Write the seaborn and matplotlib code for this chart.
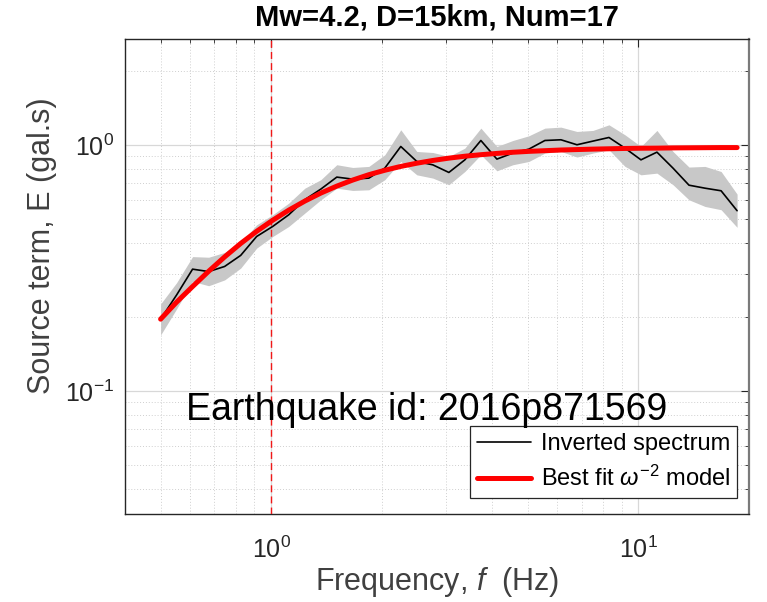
import numpy as np
import pandas as pd
import matplotlib
matplotlib.use("Agg")
import matplotlib.pyplot as plt
import seaborn as sns
from matplotlib.ticker import LogLocator, NullFormatter

# ---- data ----
freq = [0.500, 0.553, 0.611, 0.676, 0.747, 0.826, 0.913, 1.010, 1.117, 1.235,
        1.365, 1.509, 1.668, 1.845, 2.039, 2.254, 2.492, 2.756, 3.047, 3.368,
        3.724, 4.117, 4.552, 5.032, 5.563, 6.152, 6.801, 7.519, 8.313, 9.190,
        10.16, 11.23, 12.42, 13.73, 15.18, 16.79, 18.56]
spectrum = [0.196, 0.246, 0.313, 0.306, 0.321, 0.356, 0.425, 0.467, 0.521, 0.600,
            0.662, 0.741, 0.727, 0.734, 0.806, 0.987, 0.858, 0.831, 0.774, 0.871,
            1.044, 0.877, 0.928, 0.963, 1.044, 1.051, 1.003, 1.038, 1.074, 0.972,
            0.871, 0.936, 0.806, 0.687, 0.668, 0.652, 0.541]
upper = [0.226, 0.276, 0.352, 0.350, 0.366, 0.400, 0.474, 0.521, 0.581, 0.668,
         0.723, 0.832, 0.811, 0.819, 0.913, 1.154, 0.942, 0.933, 0.899, 0.972,
         1.172, 0.987, 1.044, 1.091, 1.172, 1.183, 1.136, 1.147, 1.209, 1.101,
         0.987, 1.147, 0.942, 0.814, 0.819, 0.781, 0.632]
lower = [0.169, 0.216, 0.279, 0.268, 0.283, 0.316, 0.381, 0.425, 0.467, 0.529,
         0.599, 0.668, 0.654, 0.658, 0.723, 0.858, 0.757, 0.734, 0.690, 0.781,
         0.913, 0.786, 0.832, 0.858, 0.928, 0.942, 0.894, 0.928, 0.957, 0.819,
         0.757, 0.769, 0.690, 0.599, 0.563, 0.546, 0.463]
fit = [0.196, 0.230, 0.266, 0.307, 0.351, 0.398, 0.446, 0.495, 0.544, 0.592,
       0.638, 0.681, 0.721, 0.758, 0.790, 0.819, 0.844, 0.866, 0.885, 0.901,
       0.914, 0.925, 0.935, 0.943, 0.949, 0.955, 0.959, 0.963, 0.966, 0.969,
       0.971, 0.972, 0.974, 0.975, 0.976, 0.977, 0.977]
corner_freq = 1.0
title = "Mw=4.2, D=15km, Num=17"
event_text = "Earthquake id: 2016p871569"
series_labels = ["Inverted spectrum", r"Best fit $\omega^{-2}$ model"]

df = pd.DataFrame({"freq": freq, "spectrum": spectrum, "upper": upper,
                   "lower": lower, "fit": fit})

# ---- style ----
sns.set_style("white")
plt.rcParams["font.family"] = ["Liberation Sans", "DejaVu Sans"]
plt.rcParams["mathtext.fontset"] = "custom"
plt.rcParams["mathtext.rm"] = "Liberation Sans"
plt.rcParams["mathtext.it"] = "Liberation Sans:italic"
plt.rcParams["mathtext.bf"] = "Liberation Sans:bold"
plt.rcParams["axes.unicode_minus"] = False
dark = "#262626"

fig = plt.figure(figsize=(7.67, 6.02), dpi=100)
ax = fig.add_axes([125 / 767, 1 - 514 / 602, 624 / 767, 475 / 602])

ax.fill_between(df["freq"], df["lower"], df["upper"], color="#c8c8c8",
                linewidth=0, zorder=2)
sns.lineplot(data=df, x="freq", y="spectrum", ax=ax, color="black",
             linewidth=1.2, label=series_labels[0], zorder=3)
sns.lineplot(data=df, x="freq", y="fit", ax=ax, color="#ff0000",
             linewidth=3.6, label=series_labels[1], zorder=4)
ax.axvline(corner_freq, color="#f01818", linestyle=(0, (5, 3)),
           linewidth=1.0, zorder=3)

ax.set_xscale("log")
ax.set_yscale("log")
ax.set_xlim(0.4, 20)
ax.set_ylim(10 ** -1.5, 2.7)

ax.xaxis.set_major_locator(LogLocator(base=10, numticks=10))
ax.yaxis.set_major_locator(LogLocator(base=10, numticks=10))
ax.xaxis.set_minor_locator(LogLocator(base=10, subs=np.arange(2, 10), numticks=30))
ax.yaxis.set_minor_locator(LogLocator(base=10, subs=np.arange(2, 10), numticks=30))
ax.xaxis.set_minor_formatter(NullFormatter())
ax.yaxis.set_minor_formatter(NullFormatter())

ax.grid(which="major", color="#d8d8d8", linewidth=0.9, linestyle="-", zorder=0)
ax.grid(which="minor", color="#cfcfcf", linewidth=0.7, linestyle=(0, (1, 2)), zorder=0)
ax.set_axisbelow(True)

ax.tick_params(which="both", direction="in", top=True, right=True,
               colors=dark, labelcolor=dark)
ax.tick_params(which="major", length=6, width=0.8, labelsize=18)
ax.tick_params(axis="x", which="major", pad=16)
ax.tick_params(axis="y", which="major", pad=8)
ax.tick_params(which="minor", length=3, width=0.6)
for s in ["left", "bottom", "top"]:
    ax.spines[s].set_color(dark)
    ax.spines[s].set_linewidth(1.0)
ax.spines["right"].set_color("#7a7a7a")
ax.spines["right"].set_linewidth(1.6)

ax.set_xlabel(r"Frequency, $\mathit{f}$  (Hz)", fontsize=22, color="#404040", labelpad=2)
ax.set_ylabel("Source term, E (gal.s)", fontsize=22, color="#404040")
ax.yaxis.set_label_coords(-0.109, 0.565)
ax.set_title(title, fontsize=21, fontweight="bold", color="black", pad=10)

ax.text(0.097, 0.198, event_text, transform=ax.transAxes, fontsize=27,
        color="black", ha="left", va="baseline", zorder=6)

handles, labels = ax.get_legend_handles_labels()
leg = ax.legend(handles, labels, loc="lower right", bbox_to_anchor=(0.981, 0.034),
                borderaxespad=0, frameon=True, fancybox=False, fontsize=17,
                handlelength=2.3, borderpad=0.3, labelspacing=0.45,
                handletextpad=0.4, framealpha=1)
leg.get_frame().set_edgecolor(dark)
leg.get_frame().set_linewidth(0.9)
for t in leg.get_texts():
    t.set_color("black")

fig.savefig("out.png", dpi=100)
